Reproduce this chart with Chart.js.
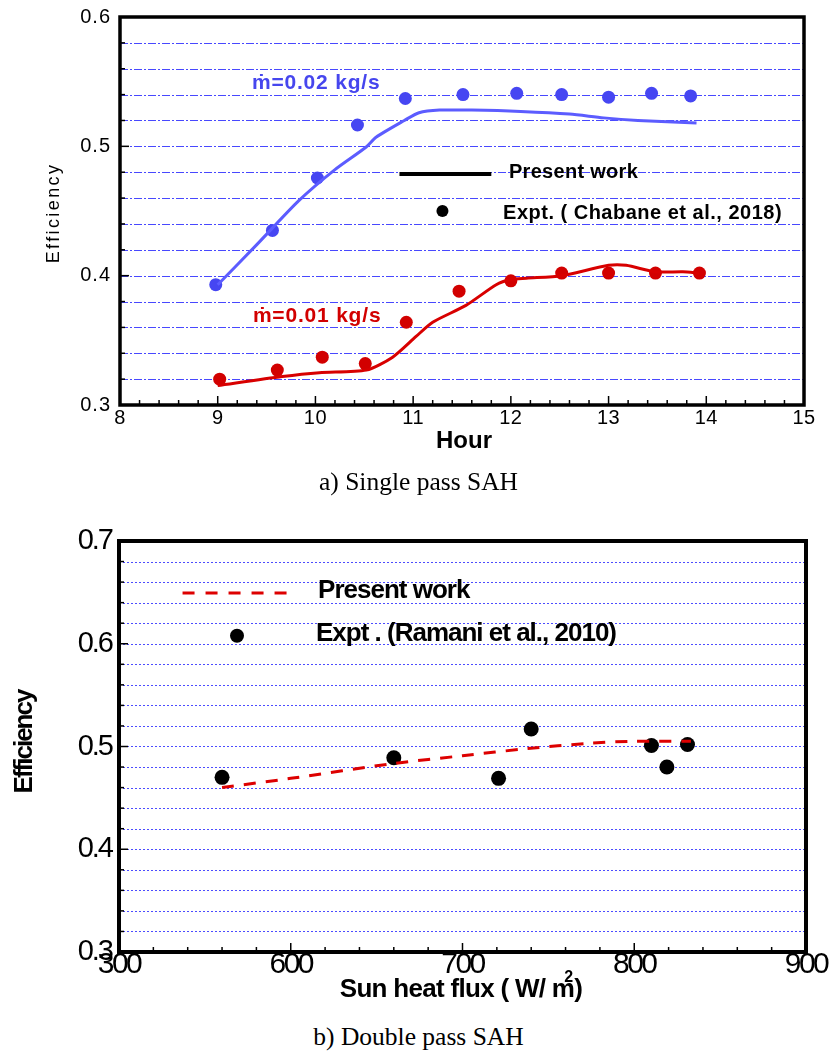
<!DOCTYPE html>
<html>
<head>
<meta charset="utf-8">
<script src="https://cdn.jsdelivr.net/npm/chart.js@4.4.0/dist/chart.umd.min.js"></script>
<style>
body { margin:0; background:#fff; width:837px; height:1056px; position:relative; overflow:hidden; }
canvas { position:absolute; left:0; }
#c1 { top:0; }
#c2 { top:500px; }
.cap { position:absolute; left:0; width:837px; text-align:center; line-height:28px;
       font-family:'Liberation Serif','Times New Roman',serif; font-size:25.5px; color:#000; }
</style>
</head>
<body>
<canvas id="c1" width="837" height="470"></canvas>
<div class="cap" style="top:468px">a) Single pass SAH</div>
<canvas id="c2" width="837" height="510"></canvas>
<div class="cap" style="top:1023px">b) Double pass SAH</div>
<script>
// ---- a) single pass: efficiency vs hour ----
var hourTicks = [8, 9, 10, 11, 12, 13, 14, 15];
var effTicksA = [0.3, 0.4, 0.5, 0.6];

// present work, m = 0.02 kg/s
var simHour002 = [9.0, 9.4, 9.83, 10.2, 10.52, 10.62, 10.91, 11.06, 11.27, 11.6, 12.1, 12.6, 12.95, 13.3, 13.9];
var simEff002  = [0.393, 0.424, 0.458, 0.482, 0.4995, 0.507, 0.520, 0.526, 0.528, 0.528, 0.527, 0.525, 0.522, 0.520, 0.518];
// expt, m = 0.02 kg/s
var expHour002 = [8.98, 9.56, 10.02, 10.43, 10.92, 11.51, 12.06, 12.52, 13.0, 13.44, 13.84];
var expEff002  = [0.393, 0.435, 0.4755, 0.5165, 0.537, 0.540, 0.541, 0.540, 0.538, 0.541, 0.539];
// present work, m = 0.01 kg/s
var simHour001 = [9.0, 9.66, 10.04, 10.52, 10.79, 11.03, 11.2, 11.54, 11.85, 12.0, 12.16, 12.52, 13.0, 13.18, 13.48, 13.76, 13.93];
var simEff001  = [0.315, 0.322, 0.325, 0.327, 0.337, 0.353, 0.364, 0.377, 0.393, 0.397, 0.398, 0.400, 0.408, 0.408, 0.403, 0.403, 0.402];
// expt, m = 0.01 kg/s
var expHour001 = [9.02, 9.61, 10.07, 10.51, 10.93, 11.47, 12.0, 12.52, 13.0, 13.48, 13.93];
var expEff001  = [0.320, 0.327, 0.337, 0.332, 0.364, 0.388, 0.396, 0.402, 0.402, 0.402, 0.402];

// ---- b) double pass: efficiency vs sun heat flux ----
var fluxTicks = [500, 600, 700, 800, 900];
var fluxTickText = ['300', '600', '700', '800', '900'];
var effTicksB = [0.3, 0.4, 0.5, 0.6, 0.7];

var simFlux = [560, 600, 660, 700, 738, 773, 798, 833];
var simEffB = [0.460, 0.469, 0.4835, 0.491, 0.498, 0.503, 0.505, 0.505];
var expFlux = [560, 660, 721, 740, 810, 819, 831];
var expEffB = [0.470, 0.489, 0.469, 0.517, 0.501, 0.480, 0.502];

var SANS = "'Liberation Sans', Arial, 'DejaVu Sans', sans-serif";

function pts(xs, ys) {
    return xs.map(function (v, i) { return { x: v, y: ys[i] }; });
}

function line(ctx, x1, y1, x2, y2) {
    ctx.beginPath(); ctx.moveTo(x1, y1); ctx.lineTo(x2, y2); ctx.stroke();
}

function txt(ctx, s, x, y, font, color, align, spacing) {
    ctx.save();
    ctx.font = font;
    ctx.fillStyle = color || '#000';
    ctx.textAlign = align || 'left';
    ctx.textBaseline = 'middle';
    ctx.letterSpacing = (spacing || 0) + 'px';
    ctx.fillText(s, x, y);
    ctx.restore();
}

function vtxt(ctx, s, x, y, font, spacing) {
    ctx.save();
    ctx.translate(x, y);
    ctx.rotate(-Math.PI / 2);
    txt(ctx, s, 0, 0, font, '#000', 'center', spacing);
    ctx.restore();
}

var plotA = {
    id: 'plotA',
    beforeDatasetsDraw: function (chart) {
        var ctx = chart.ctx, a = chart.chartArea, y = chart.scales.y;
        ctx.save();
        ctx.strokeStyle = '#4848ff';
        ctx.lineWidth = 1.2;
        ctx.setLineDash([8, 2, 2, 2]);
        for (var k = 1; k < 15; k++) {
            var py = Math.round(y.getPixelForValue(0.3 + k * 0.02)) + 0.5;
            line(ctx, a.left, py, a.right, py);
        }
        ctx.restore();
    },
    afterDatasetsDraw: function (chart) {
        var ctx = chart.ctx, a = chart.chartArea, x = chart.scales.x, y = chart.scales.y;
        var k;
        ctx.save();
        ctx.strokeStyle = '#000';
        ctx.lineWidth = 1.5;
        for (k = 0; k <= 35; k++) {
            var px = x.getPixelForValue(8 + k * 0.2);
            line(ctx, px, a.bottom, px, a.bottom - (k % 5 ? 5 : 9));
        }
        for (k = 0; k <= 15; k++) {
            var py = y.getPixelForValue(0.3 + k * 0.02);
            line(ctx, a.left, py, a.left + (k % 5 ? 5 : 9), py);
        }
        ctx.lineWidth = 3.5;
        ctx.strokeRect(a.left, a.top, a.right - a.left, a.bottom - a.top);

        // legend
        ctx.lineWidth = 4;
        line(ctx, x.getPixelForValue(10.86), y.getPixelForValue(0.4786), x.getPixelForValue(11.8), y.getPixelForValue(0.4786));
        ctx.fillStyle = '#000';
        ctx.beginPath();
        ctx.arc(x.getPixelForValue(11.3), y.getPixelForValue(0.45), 6, 0, Math.PI * 2);
        ctx.fill();
        ctx.restore();

        txt(ctx, 'Present work', x.getPixelForValue(11.98), y.getPixelForValue(0.480), 'bold 20px ' + SANS, '#000', 'left', 0.3);
        txt(ctx, 'Expt. ( Chabane et al., 2018)', x.getPixelForValue(11.92), y.getPixelForValue(0.448), 'bold 20px ' + SANS, '#000', 'left', 0.5);
        txt(ctx, '\u1E41=0.02 kg/s', x.getPixelForValue(9.35), y.getPixelForValue(0.549), 'bold 21px ' + SANS, '#4646ee', 'left', 0.8);
        txt(ctx, '\u1E41=0.01 kg/s', x.getPixelForValue(9.36), y.getPixelForValue(0.369), 'bold 21px ' + SANS, '#d20000', 'left', 0.8);

        hourTicks.forEach(function (v) {
            txt(ctx, String(v), x.getPixelForValue(v), a.bottom + 13, '20px ' + SANS, '#000', 'center', 0.5);
        });
        effTicksA.forEach(function (v) {
            txt(ctx, v.toFixed(1), a.left - 9, y.getPixelForValue(v), '20px ' + SANS, '#000', 'right', 1);
        });
        txt(ctx, 'Hour', (a.left + a.right) / 2 + 2, a.bottom + 36, 'bold 24px ' + SANS, '#000', 'center', 0);
        vtxt(ctx, 'Efficiency', 54, 213, '18px ' + SANS, 2.4);
    }
};

var plotB = {
    id: 'plotB',
    beforeDatasetsDraw: function (chart) {
        var ctx = chart.ctx, a = chart.chartArea, y = chart.scales.y;
        ctx.save();
        ctx.strokeStyle = '#4c4cff';
        ctx.lineWidth = 1;
        ctx.setLineDash([2, 2]);
        for (var k = 1; k < 20; k++) {
            var py = Math.round(y.getPixelForValue(0.3 + k * 0.02)) + 0.5;
            line(ctx, a.left, py, a.right, py);
        }
        ctx.restore();
    },
    afterDatasetsDraw: function (chart) {
        var ctx = chart.ctx, a = chart.chartArea, x = chart.scales.x, y = chart.scales.y;
        var k;
        ctx.save();
        ctx.strokeStyle = '#000';
        ctx.lineWidth = 1.5;
        for (k = 0; k <= 20; k++) {
            var px = x.getPixelForValue(500 + k * 20);
            line(ctx, px, a.bottom, px, a.bottom - (k % 5 ? 5 : 9));
        }
        for (k = 0; k <= 20; k++) {
            var py = y.getPixelForValue(0.3 + k * 0.02);
            line(ctx, a.left, py, a.left + (k % 5 ? 5 : 9), py);
        }
        ctx.lineWidth = 4;
        ctx.strokeRect(a.left, a.top, a.right - a.left, a.bottom - a.top);

        // legend
        ctx.strokeStyle = '#dd0000';
        ctx.lineWidth = 3;
        ctx.setLineDash([12, 11]);
        line(ctx, x.getPixelForValue(537), y.getPixelForValue(0.6495), x.getPixelForValue(601), y.getPixelForValue(0.6495));
        ctx.setLineDash([]);
        ctx.fillStyle = '#000';
        ctx.beginPath();
        ctx.arc(x.getPixelForValue(568.7), y.getPixelForValue(0.6078), 7, 0, Math.PI * 2);
        ctx.fill();
        ctx.restore();

        txt(ctx, 'Present work', x.getPixelForValue(615.9), y.getPixelForValue(0.6515), 'bold 26px ' + SANS, '#000', 'left', -1.0);
        txt(ctx, 'Expt . (Ramani et al., 2010)', x.getPixelForValue(614.7), y.getPixelForValue(0.6097), 'bold 26px ' + SANS, '#000', 'left', -1.0);

        fluxTicks.forEach(function (v, i) {
            txt(ctx, fluxTickText[i], x.getPixelForValue(v), a.bottom + 13, '30px ' + SANS, '#000', 'center', -2.5);
        });
        effTicksB.forEach(function (v) {
            txt(ctx, v.toFixed(1), a.left - 7, y.getPixelForValue(v), '29px ' + SANS, '#000', 'right', -2);
        });

        // x title with superscript
        ctx.save();
        ctx.font = 'bold 26px ' + SANS;
        ctx.letterSpacing = '-0.7px';
        var s1 = 'Sun heat flux ( W/ m', s2 = ')';
        var w1 = ctx.measureText(s1).width, w2 = ctx.measureText(s2).width;
        var left = 461 - (w1 + w2) / 2, yc = a.bottom + 38;
        ctx.fillStyle = '#000';
        ctx.textBaseline = 'middle';
        ctx.fillText(s1, left, yc);
        ctx.fillText(s2, left + w1, yc);
        ctx.font = 'bold 16px ' + SANS;
        ctx.fillText('2', left + w1 - 10, yc - 12);
        ctx.restore();

        vtxt(ctx, 'Efficiency', 25, 242, 'bold 26px ' + SANS, -2);
    }
};

var axisOff = { grid: { display: false }, border: { display: false }, ticks: { display: false } };

new Chart(document.getElementById('c1'), {
    type: 'scatter',
    data: {
        datasets: [
            { data: pts(simHour002, simEff002), showLine: true, borderColor: '#5c5cff', borderWidth: 3, pointRadius: 0, tension: 0.25 },
            { data: pts(simHour001, simEff001), showLine: true, borderColor: '#d80000', borderWidth: 3, pointRadius: 0, tension: 0.25 },
            { data: pts(expHour002, expEff002), pointRadius: 6.5, backgroundColor: '#4646f2', borderWidth: 0 },
            { data: pts(expHour001, expEff001), pointRadius: 6.5, backgroundColor: '#d20000', borderWidth: 0 }
        ]
    },
    options: {
        responsive: false,
        animation: false,
        events: [],
        layout: { padding: { top: 17, right: 33, left: 0, bottom: 0 } },
        plugins: { legend: { display: false }, tooltip: { enabled: false } },
        scales: {
            x: Object.assign({ type: 'linear', min: 8, max: 15, afterFit: function (s) { s.height = 65; } }, axisOff),
            y: Object.assign({ type: 'linear', min: 0.3, max: 0.6, afterFit: function (s) { s.width = 120; } }, axisOff)
        }
    },
    plugins: [plotA]
});

new Chart(document.getElementById('c2'), {
    type: 'scatter',
    data: {
        datasets: [
            { data: pts(simFlux, simEffB), showLine: true, borderColor: '#dd0000', borderWidth: 3, borderDash: [12, 10], pointRadius: 0, tension: 0.3 },
            { data: pts(expFlux, expEffB), pointRadius: 7.5, backgroundColor: '#000', borderWidth: 0 }
        ]
    },
    options: {
        responsive: false,
        animation: false,
        events: [],
        layout: { padding: { top: 41, right: 31, left: 0, bottom: 0 } },
        plugins: { legend: { display: false }, tooltip: { enabled: false } },
        scales: {
            x: Object.assign({ type: 'linear', min: 500, max: 900, afterFit: function (s) { s.height = 58; } }, axisOff),
            y: Object.assign({ type: 'linear', min: 0.3, max: 0.7, afterFit: function (s) { s.width = 119; } }, axisOff)
        }
    },
    plugins: [plotB]
});
</script>
</body>
</html>
